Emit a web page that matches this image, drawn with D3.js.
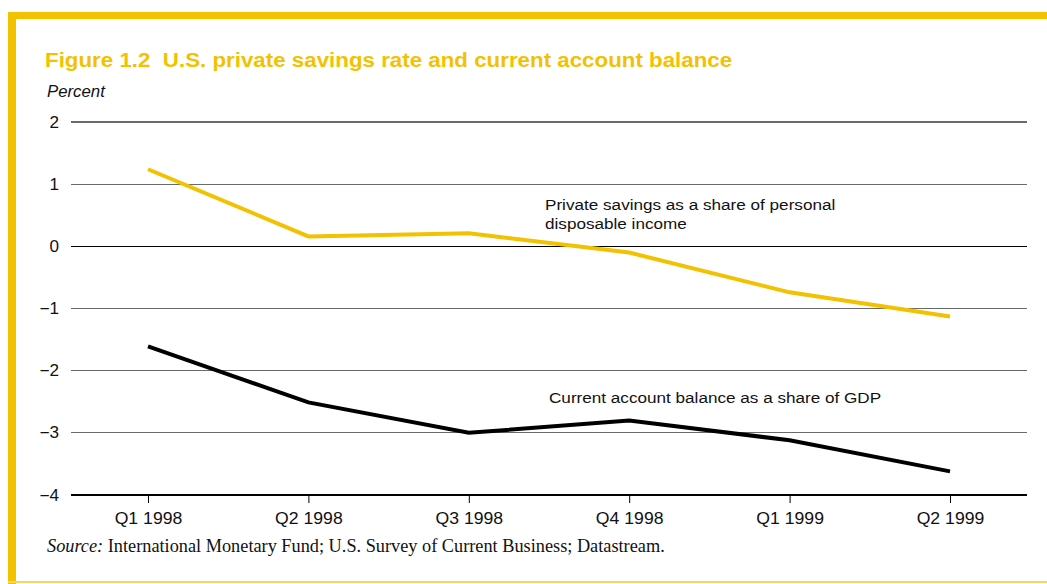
<!DOCTYPE html>
<html>
<head>
<meta charset="utf-8">
<script src="https://cdn.jsdelivr.net/npm/d3@7"></script>
<style>
  html, body { margin: 0; padding: 0; background: #fff; }
  svg { display: block; }
  text { white-space: pre; }
</style>
</head>
<body>
<svg id="chart" width="1047" height="584"></svg>
<script>
// Quarters on the x axis
const quarters = ["Q1 1998", "Q2 1998", "Q3 1998", "Q4 1998", "Q1 1999", "Q2 1999"];
// Private savings as a share of personal disposable income (percent)
const privateSavings = [1.24, 0.16, 0.21, -0.10, -0.74, -1.13];
// Current account balance as a share of GDP (percent)
const currentAccount = [-1.61, -2.51, -3.00, -2.80, -3.12, -3.62];
// Y axis ticks
const yTicks = [2, 1, 0, -1, -2, -3, -4];

const gold = "#F2C200";
const sans = "Liberation Sans, Arial, sans-serif";
const serif = "Liberation Serif, Times New Roman, serif";
const svg = d3.select("#chart");

// Place a text at (x, y) with a slight horizontal widening of the glyphs
function placeWide(sel, x, y, sx) {
  sel.attr("transform", `translate(${x},${y}) scale(${sx},1)`);
  return sel;
}

// Frame: gold bar along the top and left, thin rule at the bottom
svg.append("rect").attr("x", 8).attr("y", 12).attr("width", 1039).attr("height", 7).attr("fill", gold);
svg.append("rect").attr("x", 8).attr("y", 12).attr("width", 8).attr("height", 572).attr("fill", gold);
svg.append("rect").attr("x", 8).attr("y", 581).attr("width", 1039).attr("height", 2).attr("fill", "#F6D660");

// Title
placeWide(svg.append("text"), 45, 67, 1.145)
  .attr("font-family", sans)
  .attr("font-weight", "bold").attr("font-size", 19.5)
  .attr("fill", gold)
  .text("Figure 1.2  U.S. private savings rate and current account balance");

placeWide(svg.append("text"), 47, 97, 1.05)
  .attr("font-family", sans)
  .attr("font-style", "italic").attr("font-size", 16)
  .attr("fill", "#111")
  .text("Percent");

const x = d3.scalePoint().domain(quarters).range([148, 950]);
const y = d3.scaleLinear().domain([-4, 2]).range([495, 122]);
const gridX0 = 71, gridX1 = 1027;

// Horizontal gridlines with labels
const grid = svg.append("g");
grid.selectAll("line").data(yTicks).join("line")
  .attr("x1", gridX0).attr("x2", gridX1)
  .attr("y1", d => y(d)).attr("y2", d => y(d))
  .attr("stroke", d => (d === 0 || d === -4) ? "#000" : "#6a6a6a")
  .attr("stroke-width", 1.2)
  .attr("shape-rendering", "crispEdges");
grid.selectAll("text").data(yTicks).join("text")
  .attr("transform", d => `translate(59,${y(d) + 5.5}) scale(1.07,1)`)
  .attr("text-anchor", "end")
  .attr("font-family", sans)
  .attr("font-size", 16).attr("fill", "#111")
  .text(d => d < 0 ? "\u2212" + Math.abs(d) : d);

// X axis ticks and labels
const xAxis = d3.axisBottom(x).tickSize(8).tickPadding(9);
const gx = svg.append("g").attr("transform", `translate(0,${y(-4)})`).call(xAxis);
gx.select(".domain").remove();
gx.selectAll(".tick line").attr("stroke", "#000").attr("stroke-width", 1);
gx.selectAll(".tick text")
  .attr("font-family", sans)
  .attr("font-size", 16.5).attr("fill", "#111")
  .attr("transform", "scale(1.07,1)");

// Series lines
const line = d3.line().x((d, i) => x(quarters[i])).y(d => y(d));
svg.append("path").datum(privateSavings)
  .attr("d", line).attr("fill", "none")
  .attr("stroke", gold).attr("stroke-width", 4);
svg.append("path").datum(currentAccount)
  .attr("d", line).attr("fill", "none")
  .attr("stroke", "#000").attr("stroke-width", 4);

// Series labels
const lab = svg.append("g")
  .attr("font-family", sans)
  .attr("font-size", 15.5).attr("fill", "#111");
placeWide(lab.append("text"), 545, 210, 1.105).text("Private savings as a share of personal");
placeWide(lab.append("text"), 545, 229, 1.105).text("disposable income");
placeWide(lab.append("text"), 549, 403, 1.105).text("Current account balance as a share of GDP");

// Source note
const src = placeWide(svg.append("text"), 47, 552, 1.0)
  .attr("font-family", serif)
  .attr("font-size", 18.3).attr("fill", "#111");
src.append("tspan").attr("font-style", "italic").text("Source:");
src.append("tspan").text(" International Monetary Fund; U.S. Survey of Current Business; Datastream.");
</script>
</body>
</html>
